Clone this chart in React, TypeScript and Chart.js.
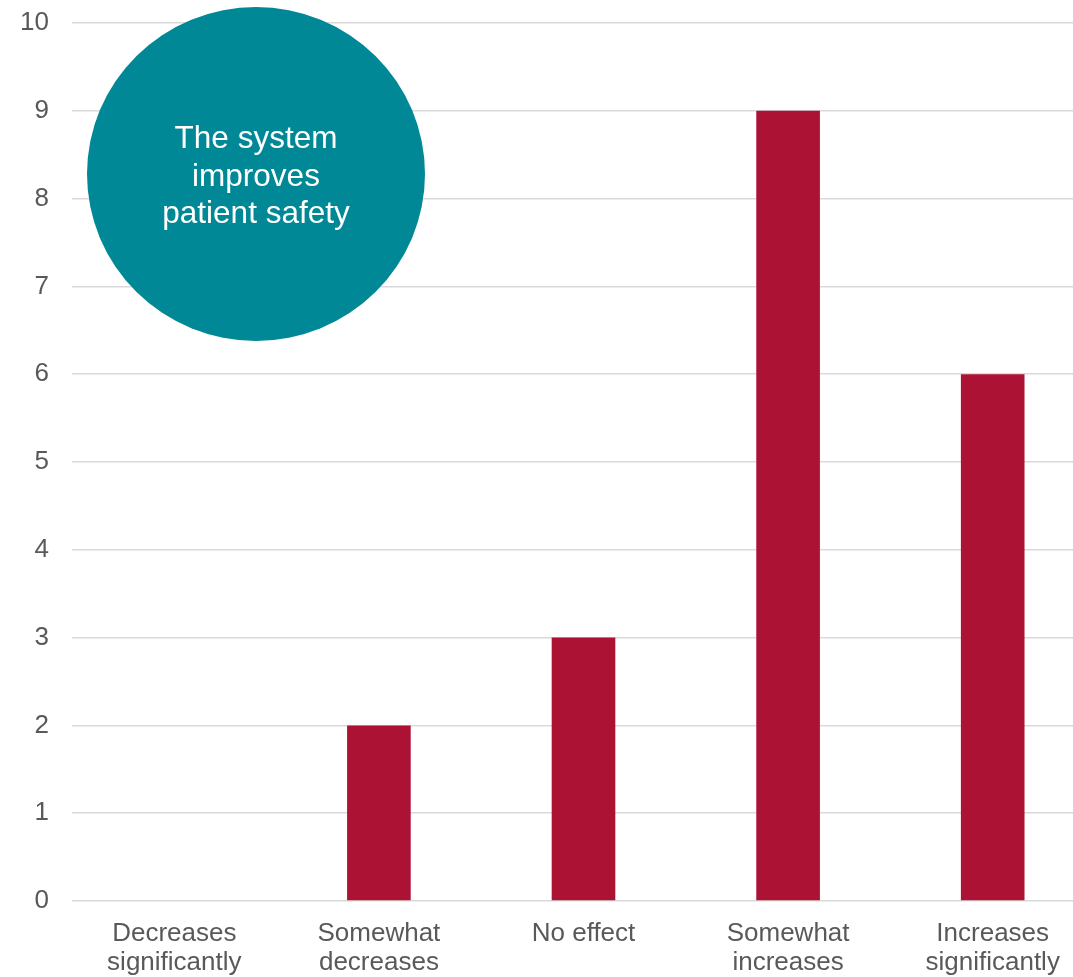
import React, { useEffect, useRef } from "react";
import { Chart, registerables } from "chart.js";

Chart.register(...registerables);

const categories: string[][] = [
  ["Decreases", "significantly"],
  ["Somewhat", "decreases"],
  ["No effect"],
  ["Somewhat", "increases"],
  ["Increases", "significantly"],
];
const counts: number[] = [0, 2, 3, 9, 6];
const calloutLines: string[] = ["The system", "improves", "patient safety"];

const FONT = "'Liberation Sans', Arial, Helvetica, sans-serif";
const TEXT_COLOR = "#595959";
const GRID_COLOR = "#d9d9d9";
const BAR_COLOR = "#ab1234";
const TEAL = "#008896";

const calloutPlugin = {
  id: "callout",
  afterDatasetsDraw(chart: any) {
    const { ctx, chartArea } = chart;
    const cx = chartArea.left + 184;
    const cy = chartArea.top + 151;
    ctx.save();
    ctx.beginPath();
    ctx.ellipse(cx, cy, 169, 167, 0, 0, Math.PI * 2);
    ctx.fillStyle = TEAL;
    ctx.fill();
    ctx.fillStyle = "#ffffff";
    ctx.font = `31.5px ${FONT}`;
    ctx.textAlign = "center";
    ctx.textBaseline = "alphabetic";
    const lh = 37.7;
    const firstBaseline = cy - 26;
    calloutLines.forEach((line, i) => {
      ctx.fillText(line, cx, firstBaseline + i * lh);
    });
    ctx.restore();
  },
};

export default function App() {
  const canvasRef = useRef<HTMLCanvasElement | null>(null);

  useEffect(() => {
    document.body.style.margin = "0";
    const canvas = canvasRef.current;
    if (!canvas) return;
    const chart = new Chart(canvas, {
      type: "bar",
      data: {
        labels: categories,
        datasets: [
          {
            data: counts,
            backgroundColor: BAR_COLOR,
            borderWidth: 0,
            barPercentage: 0.311,
            categoryPercentage: 1,
          },
        ],
      },
      options: {
        responsive: false,
        animation: false,
        devicePixelRatio: 1,
        layout: { padding: { top: 23, left: 0, right: 0, bottom: 0 } },
        plugins: {
          legend: { display: false },
          tooltip: { enabled: false },
          title: { display: false },
        },
        scales: {
          x: {
            offset: true,
            grid: { display: false, drawTicks: false },
            border: { display: false },
            ticks: {
              color: TEXT_COLOR,
              font: { family: FONT, size: 26, lineHeight: 1.12 },
              padding: 18,
              maxRotation: 0,
              autoSkip: false,
            },
            afterFit: (scale: any) => {
              scale.height = 76;
            },
          },
          y: {
            min: 0,
            max: 10,
            grid: {
              color: GRID_COLOR,
              lineWidth: 1.5,
              drawTicks: false,
            },
            border: { display: false },
            ticks: {
              stepSize: 1,
              color: TEXT_COLOR,
              font: { family: FONT, size: 26 },
              padding: 23,
            },
            afterFit: (scale: any) => {
              scale.width = 72;
              scale.paddingTop = 0;
              scale.paddingBottom = 0;
            },
          },
        },
      },
      plugins: [calloutPlugin],
    });
    return () => chart.destroy();
  }, []);

  return (
    <div
      style={{
        position: "fixed",
        top: 0,
        left: 0,
        width: 1073,
        height: 977,
        overflow: "hidden",
        background: "#ffffff",
      }}
    >
      <canvas ref={canvasRef} width={1095} height={977} style={{ display: "block" }} />
    </div>
  );
}
